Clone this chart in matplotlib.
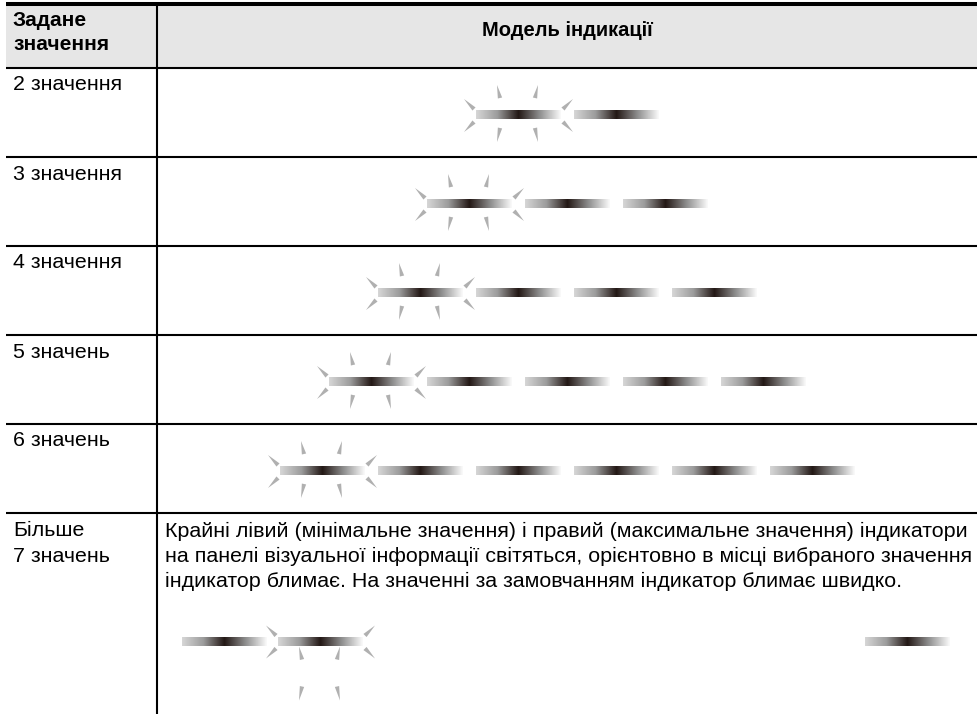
import numpy as np
import matplotlib.pyplot as plt
from matplotlib import font_manager
from matplotlib.colors import LinearSegmentedColormap
from matplotlib.patches import Polygon, Rectangle

header_left = ["Задане", "значення"]
header_right = "Модель індикації"
row_labels = ["2 значення", "3 значення", "4 значення", "5 значень", "6 значень"]
n_indicators = [2, 3, 4, 5, 6]
last_label = ["Більше", "7 значень"]
last_text = [
    "Крайні лівий (мінімальне значення) і правий (максимальне значення) індикатори",
    "на панелі візуальної інформації світяться, орієнтовно в місці вибраного значення",
    "індикатор блимає. На значенні за замовчанням індикатор блимає швидко.",
]
# last row: left edges of the lit indicators, the second one flashes
last_bars = [182, 278, 865]
last_flash = 1

W, H = 978, 714
names = {f.name for f in font_manager.fontManager.ttflist}
head_font = "Liberation Sans Narrow" if "Liberation Sans Narrow" in names else "Liberation Sans"
body_font = "Liberation Sans"
BODY = 15.4

fig = plt.figure(figsize=(W / 100, H / 100), dpi=100)
ax = fig.add_axes([0, 0, 1, 1])

bar_cmap = LinearSegmentedColormap.from_list(
    "ind", [(0.0, "#d6d6d6"), (0.25, "#9c9c9c"), (0.5, "#231815"),
            (0.75, "#8e8e8e"), (1.0, "#fafafa")])
grad = np.linspace(0, 1, 200)[np.newaxis, :]
BAR_W, PITCH, BAR_H = 85, 98, 9
SPIKE = "#b0b0b0"


def bar(x0, cy):
    ax.imshow(grad, extent=[x0, x0 + BAR_W, cy + BAR_H / 2, cy - BAR_H / 2],
              cmap=bar_cmap, aspect="auto", interpolation="bilinear", zorder=3)


def wedge(tip, base, w=2.2):
    tx, ty = tip
    bx, by = base
    d = np.array([bx - tx, by - ty], dtype=float)
    n = np.array([-d[1], d[0]]) / np.hypot(*d) * w
    pts = [tip, (bx + n[0], by + n[1]), (bx - n[0], by - n[1])]
    ax.add_patch(Polygon(pts, closed=True, color=SPIKE, lw=0, zorder=3))


def sparks(x0, cy, up_shift=0, low_shift=0):
    L, R = x0, x0 + BAR_W
    cx = (L + R) / 2
    wedge((L - 12, cy - 16), (L - 2, cy - 6))
    wedge((L - 12, cy + 17), (L - 2, cy + 7))
    wedge((R + 12, cy - 16), (R + 2, cy - 6))
    wedge((R + 12, cy + 17), (R + 2, cy + 7))
    wedge((cx - 21.5, cy - 30 + up_shift), (cx - 18.5, cy - 17 + up_shift))
    wedge((cx + 19.5, cy - 30 + up_shift), (cx + 16.5, cy - 17 + up_shift))
    wedge((cx - 21.5, cy + 27 + low_shift), (cx - 18.5, cy + 13 + low_shift))
    wedge((cx + 19.5, cy + 27 + low_shift), (cx + 16.5, cy + 13 + low_shift))


# table frame
left, col_x, head_bot = 6, 157, 68
row_h = 89
ax.add_patch(Rectangle((left, 5), W - left, head_bot - 5, color="#e6e6e6", lw=0, zorder=1))
ax.plot([left, W], [4, 4], color="black", lw=2.9, solid_capstyle="butt", zorder=4)
ax.plot([col_x, col_x], [5, H], color="black", lw=1.5, solid_capstyle="butt", zorder=4)
for i in range(len(row_labels) + 1):
    y = head_bot + i * row_h
    ax.plot([left, W], [y, y], color="black", lw=1.5, solid_capstyle="butt", zorder=4)

# header
ax.text(13, 20, header_left[0], fontsize=15, fontweight="bold", family=head_font, va="center")
ax.text(13, 44, header_left[1], fontsize=15, fontweight="bold", family=head_font, va="center")
ax.text((col_x + W) / 2, 31, header_right, fontsize=14.5, fontweight="bold",
        family=head_font, va="center", ha="center")

# rows 2..6 values
mid = (col_x + W) / 2
for i, (lab, n) in enumerate(zip(row_labels, n_indicators)):
    top = head_bot + i * row_h
    ax.text(13, top + 17, lab, fontsize=BODY, family=body_font, va="center")
    cy = top + 47
    total = (n - 1) * PITCH + BAR_W
    start = mid - total / 2
    for k in range(n):
        bar(start + k * PITCH, cy)
    sparks(start, cy)

# last row
top = head_bot + len(row_labels) * row_h
for j, t in enumerate(last_label):
    ax.text(13, top + 18 + j * 25, t, fontsize=BODY, family=body_font, va="center")
for j, t in enumerate(last_text):
    ax.text(165, top + 18 + j * 25, t, fontsize=BODY, family=body_font, va="center")
cy = top + 128.5
for x0 in last_bars:
    bar(x0, cy)
sparks(last_bars[last_flash], cy, up_shift=35, low_shift=32)

ax.set_xlim(0, W)
ax.set_ylim(H, 0)
ax.axis("off")
fig.savefig("out.png", dpi=100)
